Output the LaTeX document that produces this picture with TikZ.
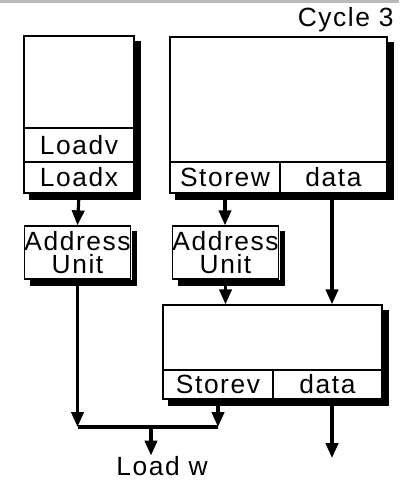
\documentclass[tikz,border=0pt]{standalone}
\usepackage{fontspec}
\setmainfont{Liberation Sans}[LetterSpace=6]
\usetikzlibrary{arrows.meta}
\begin{document}
\begin{tikzpicture}[x=0.02cm,y=-0.02cm,
    every node/.style={font=\fontsize{15}{13.5}\selectfont,inner sep=0pt},
    reg/.style={draw,line width=0.8pt,fill=white},
    cell/.style={draw,line width=0.8pt,fill=white},
    shadowline/.style={line width=3pt,line cap=butt},
    wire/.style={line width=1.8pt,-{Triangle[length=8.5pt,width=7pt]}}]
                \useasboundingbox (0,0) rectangle (399,482);
                \fill[gray!55] (0,0) rectangle (399,3);
                %% title
                \node[anchor=base east] (title) at (394,27) {Cycle 3};
                %% registers
                \node[reg,minimum width=2.2cm,minimum height=3.14cm] (regl) at (79,114.5) {};
                \node[cell,minimum width=2.2cm,minimum height=0.68cm] (loadv) at (79,145) {Loadv};
                \node[cell,minimum width=2.2cm,minimum height=0.62cm] (loadx) at (79,177.5) {Loadx};
                \node[reg,minimum width=4.34cm,minimum height=3.12cm] (regr) at (278.5,115) {};
                \node[cell,minimum width=2.2cm,minimum height=0.62cm] (storew) at (225,177.5) {Storew};
                \node[cell,minimum width=2.14cm,minimum height=0.62cm] (rdata) at (333.5,177.5) {data};
                %% address units
                \node[reg,minimum width=2.1cm,minimum height=1.06cm,align=center] (au1) at (77.5,252.5) {Address\\Unit};
                \node[reg,minimum width=2.1cm,minimum height=1.06cm,align=center] (au2) at (225.5,252.5) {Address\\Unit};
                %% bottom register
                \node[reg,minimum width=4.38cm,minimum height=1.88cm] (regb) at (272.5,352) {};
                \node[cell,minimum width=2.2cm,minimum height=0.58cm] (storev) at (218,384.5) {Storev};
                \node[cell,minimum width=2.18cm,minimum height=0.58cm] (bdata) at (327.5,384.5) {data};
                %% shadows as thick lines along right and bottom edges
                \foreach \n in {regl,regr,au1,au2,regb}{
                    \draw[shadowline] ([xshift=1.9pt,yshift=-3.5pt]\n.north east) -- ([xshift=1.9pt,yshift=-1.9pt]\n.south east) -- ([xshift=3.5pt,yshift=-1.9pt]\n.south west);
                }
                %% output
                \node[anchor=base] (loadw) at (162,475) {Load w};
                \coordinate (jy) at (0,427);
                \coordinate (jm) at (151,427);
                \coordinate (dout) at (332,458);
                %% wires
                \draw[wire] (loadx.south) -- (au1.north);
                \draw[wire] (storew.south) -- (storew.south |- au2.north);
                \draw[wire] (rdata.south -| dout) -- (regb.north -| dout);
                \draw[wire] (au2.south) -- (au2.south |- regb.north);
                \draw[wire] (au1.south) -- (au1.south |- jy);
                \draw[wire] (storev.south) -- (storev.south |- jy);
                \draw[line width=1.8pt] (au1.south |- jy) -- (storev.south |- jy);
                \draw[wire] (jm) -- (jm |- loadw.north);
                \draw[wire] (regb.south -| dout) -- (dout);
            \end{tikzpicture}
\end{document}
